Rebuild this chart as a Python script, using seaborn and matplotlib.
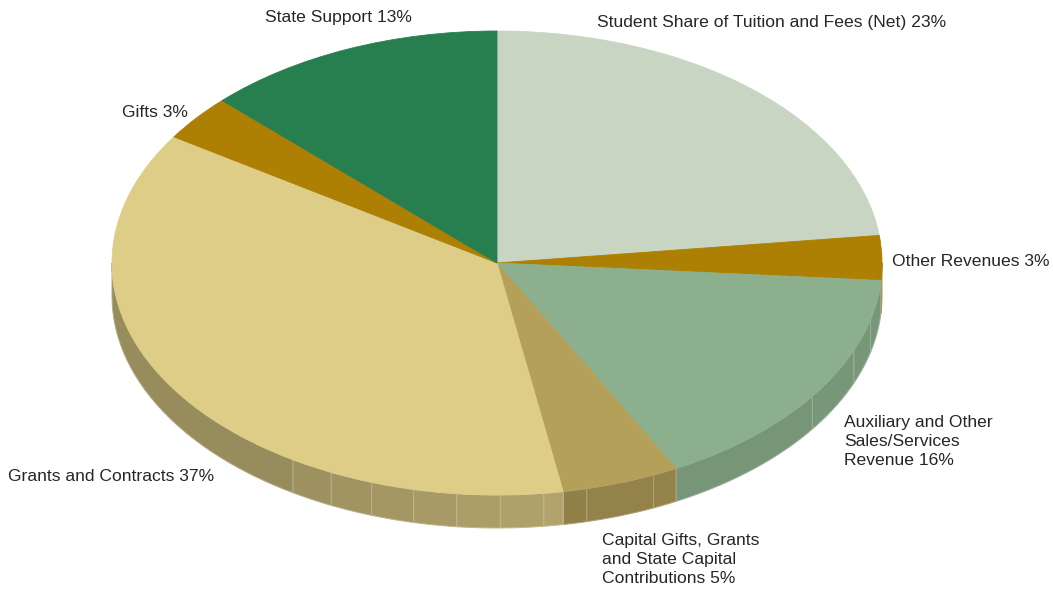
import numpy as np
import matplotlib
matplotlib.use("Agg")
import matplotlib.pyplot as plt
import seaborn as sns
from matplotlib.patches import Polygon
from matplotlib.colors import to_rgb

# ---- data ----
categories = ["Student Share of Tuition and Fees (Net)", "Other Revenues",
              "Auxiliary and Other Sales/Services Revenue",
              "Capital Gifts, Grants and State Capital Contributions",
              "Grants and Contracts", "Gifts", "State Support"]
values = [23.1, 3.1, 16.1, 4.95, 36.9, 3.2, 12.65]
labels = ["Student Share of Tuition and Fees (Net) 23%",
          "Other Revenues 3%",
          "Auxiliary and Other\nSales/Services\nRevenue 16%",
          "Capital Gifts, Grants\nand State Capital\nContributions 5%",
          "Grants and Contracts 37%",
          "Gifts 3%",
          "State Support 13%"]
colors = ["#C9D5C3", "#AD7F02", "#8CB08D", "#B5A05A", "#DECD87", "#AD7F02", "#277F50"]

# ---- style / layout ----
sns.set_theme(style="white")
plt.rcParams['font.family'] = ['Liberation Sans', 'DejaVu Sans']
palette = sns.color_palette(colors)

W, H = 1053, 591
cx, cy, rx, ry = 497, 263, 385, 232   # pixel geometry of the top ellipse
depth = 33 / ry                        # extrusion depth in data units

fig = plt.figure(figsize=(W / 100, H / 100), dpi=100)
ax = fig.add_axes([0, 0, 1, 1])

wedges, _ = ax.pie(values, colors=palette, startangle=90, counterclock=False,
                   radius=1, center=(0, 0),
                   wedgeprops=dict(linewidth=0.6, zorder=2))
for w in wedges:
    w.set_edgecolor(w.get_facecolor())
ax.set_aspect("auto")
ax.set_xlim(-cx / rx, (W - cx) / rx)
ax.set_ylim(-(H - cy) / ry, cy / ry)
ax.axis("off")

# ---- side (extrusion) of the front half ----
facet_marks = np.concatenate([np.arange(-122, -70, 6.5), [-66, -35, -22, -14]])
cum = np.concatenate([[0], np.cumsum(values)]) / np.sum(values)
for i, col in enumerate(palette):
    a_hi = 90 - 360 * cum[i]
    a_lo = 90 - 360 * cum[i + 1]
    lo, hi = max(a_lo, -180), min(a_hi, 0)
    if hi <= lo:
        continue
    bounds = sorted(set([lo, hi] + [b for b in facet_marks if lo < b < hi]))
    base = np.array(to_rgb(col))
    for a, b in zip(bounds[:-1], bounds[1:]):
        mid = (a + b) / 2 + 360
        f = np.interp(mid, [180, 235, 280, 320, 360], [0.67, 0.69, 0.80, 0.86, 0.86])
        fc = np.clip(base * f, 0, 1)
        ec = fc * 0.75 + 0.25
        th = np.radians(np.linspace(a, b, 30))
        top = np.column_stack([np.cos(th), np.sin(th)])
        bot = np.column_stack([np.cos(th[::-1]), np.sin(th[::-1]) - depth])
        ax.add_patch(Polygon(np.vstack([top, bot]), closed=True, facecolor=fc,
                             edgecolor=ec, linewidth=0.7, zorder=1))

# ---- labels (y = baseline of last line, pixels from top) ----
label_pos = [(597, 27, "left"), (892, 266, "left"), (844, 465, "left"),
             (602, 583, "left"), (8, 481, "left"), (188, 117, "right"),
             (265, 22, "left")]
for txt, (x, y, ha) in zip(labels, label_pos):
    fig.text(x / W, 1 - y / H, txt, ha=ha, va="baseline", fontsize=12.6,
             color="#262626", linespacing=1.33)

fig.savefig("out.png", dpi=100)
